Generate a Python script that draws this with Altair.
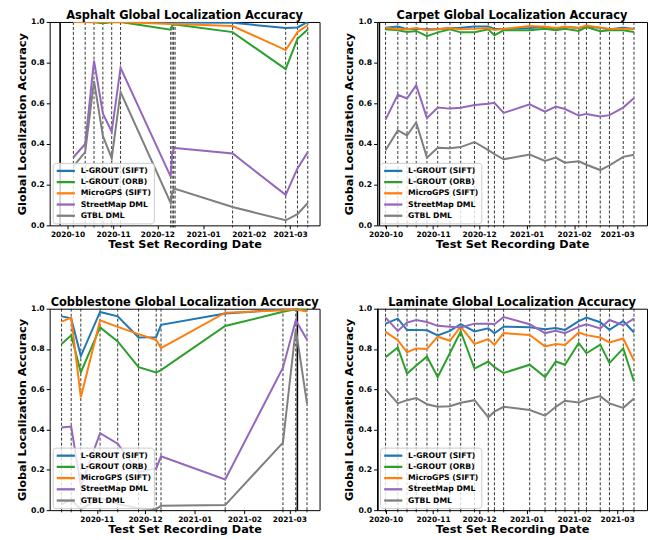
import altair as alt
import pandas as pd

METHODS = ["L-GROUT (SIFT)", "L-GROUT (ORB)", "MicroGPS (SIFT)", "StreetMap DML", "GTBL DML"]
COLORS = ["#1f77b4", "#2ca02c", "#ff7f0e", "#9467bd", "#7f7f7f"]

# ---------------- Asphalt ----------------
asphalt_dates = ["2020-10-05", "2020-10-13", "2020-10-19", "2020-10-25", "2020-10-31", "2020-11-06",
                 "2020-12-10", "2020-12-11", "2020-12-12", "2020-12-13", "2021-01-21", "2021-02-26",
                 "2021-03-06", "2021-03-13"]
asphalt_sift = [1.0, 1.0, 1.0, 1.0, 1.0, 1.0, 0.997, 0.997, 0.997, 0.997, 0.996, 0.970, 0.973, 1.0]
asphalt_orb = [1.0, 1.0, 0.998, 0.994, 0.998, 1.0, 0.962, 0.982, 0.986, 0.987, 0.950, 0.768, 0.917, 0.963]
asphalt_micro = [1.0, 1.0, 1.0, 1.0, 1.0, 1.0, 0.990, 0.990, 0.990, 0.990, 0.980, 0.862, 0.950, 0.985]
asphalt_street = [0.335, 0.40, 0.81, 0.55, 0.46, 0.775, 0.24, 0.35, 0.375, 0.38, 0.353, 0.15, 0.28, 0.36]
asphalt_gtbl = [0.29, 0.36, 0.71, 0.44, 0.33, 0.655, 0.11, 0.16, 0.175, 0.18, 0.09, 0.025, 0.055, 0.11]
asphalt_train = "2020-09-26"
asphalt_domain = [(2020, 9, 18, 22), (2021, 3, 21, 0)]

# ---------------- Carpet ----------------
carpet_dates = ["2020-10-01", "2020-10-09", "2020-10-15", "2020-10-21", "2020-10-28", "2020-11-04",
                "2020-11-12", "2020-11-19", "2020-11-28", "2020-12-07", "2020-12-11", "2020-12-17",
                "2021-01-03", "2021-01-13", "2021-01-20", "2021-01-26", "2021-02-04", "2021-02-09",
                "2021-02-18", "2021-02-24", "2021-03-05", "2021-03-12"]
carpet_sift = [0.972, 0.978, 0.964, 0.966, 0.964, 0.964, 0.970, 0.972, 0.978, 0.978, 0.966, 0.966,
               0.970, 0.976, 0.966, 0.976, 0.970, 0.978, 0.972, 0.964, 0.972, 0.966]
carpet_orb = [0.964, 0.959, 0.951, 0.956, 0.930, 0.949, 0.964, 0.949, 0.949, 0.964, 0.935, 0.959,
              0.959, 0.967, 0.959, 0.967, 0.956, 0.975, 0.954, 0.959, 0.959, 0.951]
carpet_micro = [0.972, 0.964, 0.964, 0.970, 0.959, 0.964, 0.970, 0.964, 0.966, 0.970, 0.960, 0.966,
                0.980, 0.976, 0.970, 0.976, 0.970, 0.982, 0.972, 0.966, 0.966, 0.967]
carpet_street = [0.52, 0.642, 0.624, 0.689, 0.527, 0.579, 0.574, 0.578, 0.592, 0.598, 0.603, 0.553,
                 0.595, 0.559, 0.584, 0.572, 0.54, 0.548, 0.535, 0.542, 0.579, 0.626]
carpet_gtbl = [0.369, 0.467, 0.442, 0.506, 0.333, 0.382, 0.379, 0.385, 0.41, 0.37, 0.35, 0.325,
               0.348, 0.317, 0.333, 0.308, 0.315, 0.298, 0.272, 0.295, 0.337, 0.347]
carpet_train = "2020-09-27"
carpet_domain = [(2020, 9, 25, 12), (2021, 3, 20, 12)]

# ---------------- Cobblestone ----------------
cobble_dates = ["2020-10-10", "2020-10-16", "2020-10-22", "2020-11-03", "2020-11-14", "2020-11-27",
                "2020-12-08", "2020-12-11", "2021-01-20", "2021-02-25", "2021-03-05", "2021-03-12"]
cobble_sift = [0.962, 0.952, 0.765, 0.984, 0.962, 0.857, 0.859, 0.92, 0.976, 0.996, 0.997, 0.99]
cobble_orb = [0.825, 0.868, 0.684, 0.907, 0.838, 0.71, 0.684, 0.695, 0.914, 0.985, 0.997, 0.995]
cobble_micro = [0.936, 0.956, 0.56, 0.942, 0.91, 0.874, 0.845, 0.804, 0.98, 0.992, 0.997, 0.986]
cobble_street = [0.41, 0.415, 0.12, 0.382, 0.33, 0.189, 0.207, 0.267, 0.152, 0.707, 0.943, 0.846]
cobble_gtbl = [0.03, 0.05, 0.005, 0.06, 0.03, 0.01, 0.005, 0.022, 0.025, 0.335, 0.9, 0.53]
cobble_train = "2021-03-06"
cobble_domain = [(2020, 10, 2, 14), (2021, 3, 19, 20)]

# ---------------- Laminate ----------------
laminate_dates = list(carpet_dates)
laminate_sift = [0.926, 0.951, 0.894, 0.895, 0.893, 0.867, 0.89, 0.924, 0.887, 0.903, 0.878, 0.911,
                 0.908, 0.898, 0.904, 0.895, 0.938, 0.956, 0.933, 0.895, 0.939, 0.882]
laminate_orb = [0.759, 0.808, 0.677, 0.718, 0.762, 0.661, 0.78, 0.887, 0.703, 0.738, 0.71, 0.681,
                0.722, 0.661, 0.738, 0.722, 0.83, 0.779, 0.822, 0.73, 0.803, 0.639]
laminate_micro = [0.885, 0.844, 0.784, 0.803, 0.8, 0.861, 0.841, 0.911, 0.825, 0.849, 0.821, 0.879,
                  0.87, 0.813, 0.825, 0.82, 0.882, 0.869, 0.857, 0.833, 0.852, 0.743]
laminate_street = [0.956, 0.89, 0.931, 0.944, 0.934, 0.915, 0.911, 0.907, 0.926, 0.925, 0.923, 0.959,
                   0.923, 0.879, 0.89, 0.879, 0.911, 0.923, 0.902, 0.944, 0.918, 0.951]
laminate_gtbl = [0.6, 0.53, 0.546, 0.557, 0.526, 0.513, 0.516, 0.533, 0.546, 0.461, 0.489, 0.513,
                 0.497, 0.469, 0.513, 0.543, 0.534, 0.549, 0.566, 0.53, 0.508, 0.554]
laminate_train = "2020-09-26"
laminate_domain = [(2020, 9, 25, 12), (2021, 3, 20, 12)]

FONT = "DejaVu Sans"
W = 272


def dt(t):
    y, m, d, h = t
    return alt.DateTime(year=y, month=m, date=d, hours=h, utc=True)


def panel(title, dates, series, train, domain, h):
    rows = []
    for m, vals in zip(METHODS, series):
        for d, v in zip(dates, vals):
            rows.append({"date": d, "method": m, "value": v})
    df = pd.DataFrame(rows)
    ddf = pd.DataFrame({"date": dates})
    tdf = pd.DataFrame({"date": [train]})

    xscale = alt.Scale(type="utc", domain=[dt(domain[0]), dt(domain[1])])
    xaxis = alt.Axis(format="%Y-%m", tickCount={"interval": "month", "step": 1},
                     title="Test Set Recording Date", titleFont=FONT, titleFontSize=11.4,
                     titleFontWeight="bold", titleColor="black", titlePadding=1,
                     labelFont=FONT, labelFontSize=7.5, labelFontWeight="bold", labelColor="black",
                     labelPadding=1.5, labelOverlap=False, tickSize=3.5, tickColor="black",
                     domain=False, grid=False)
    yaxis = alt.Axis(values=[0, 0.2, 0.4, 0.6, 0.8, 1.0], format=".1f",
                     title="Global Localization Accuracy", titleFont=FONT, titleFontSize=11.4,
                     titleFontWeight="bold", titleColor="black", titlePadding=3.5,
                     labelFont=FONT, labelFontSize=7.8, labelFontWeight="bold", labelColor="black",
                     labelPadding=2, tickSize=3.5, tickColor="black", domain=False, grid=False)
    x = alt.X("date:T", scale=xscale, axis=xaxis)
    x_plain = alt.X("date:T", scale=xscale)

    dashed = alt.Chart(ddf).mark_rule(color="black", strokeDash=[3, 2], strokeWidth=0.8).encode(x=x)
    minor = alt.Chart(ddf).mark_rule(color="black", strokeWidth=0.8).encode(
        x=x_plain, y=alt.value(h), y2=alt.value(h + 2.2))
    solid = alt.Chart(tdf).mark_rule(color="black", strokeWidth=1.6).encode(x=x_plain)
    lines = alt.Chart(df).mark_line(strokeWidth=2, clip=True).encode(
        x=x_plain,
        y=alt.Y("value:Q", scale=alt.Scale(domain=[0, 1]), axis=yaxis),
        color=alt.Color("method:N", sort=METHODS,
                        scale=alt.Scale(domain=METHODS, range=COLORS),
                        legend=alt.Legend(title=None, orient="bottom-left", offset=2.5,
                                          symbolType="M-1,0H3.575", symbolStrokeWidth=2.3,
                                          symbolSize=64, labelFont=FONT, labelFontSize=7.8,
                                          labelFontWeight="bold", labelColor="black",
                                          labelOffset=14.6, labelLimit=200, rowPadding=0.3,
                                          fillColor="rgba(255,255,255,0.8)",
                                          strokeColor="#cccccc", cornerRadius=3, padding=2.6)),
    )
    return alt.layer(dashed, minor, solid, lines).properties(
        width=W, height=h,
        title=alt.TitleParams(text=title, font=FONT, fontSize=11.5, fontWeight="bold",
                              color="black", offset=-4, anchor="middle"))


a = panel("Asphalt Global Localization Accuracy", asphalt_dates,
          [asphalt_sift, asphalt_orb, asphalt_micro, asphalt_street, asphalt_gtbl],
          asphalt_train, asphalt_domain, 205)
b = panel("Carpet Global Localization Accuracy", carpet_dates,
          [carpet_sift, carpet_orb, carpet_micro, carpet_street, carpet_gtbl],
          carpet_train, carpet_domain, 205)
c = panel("Cobblestone Global Localization Accuracy", cobble_dates,
          [cobble_sift, cobble_orb, cobble_micro, cobble_street, cobble_gtbl],
          cobble_train, cobble_domain, 203)
d = panel("Laminate Global Localization Accuracy", laminate_dates,
          [laminate_sift, laminate_orb, laminate_micro, laminate_street, laminate_gtbl],
          laminate_train, laminate_domain, 203)

top = alt.hconcat(a, b, spacing=22).resolve_scale(color="independent")
bottom = alt.hconcat(c, d, spacing=22).resolve_scale(color="independent")
chart = alt.vconcat(top, bottom, spacing=46).resolve_scale(color="independent").configure(
    font=FONT, padding={"left": 7, "top": 0, "right": 0, "bottom": 0}
).configure_view(stroke="black", strokeWidth=1)

chart.save("out.html", embed_options={"renderer": "svg", "actions": False})
